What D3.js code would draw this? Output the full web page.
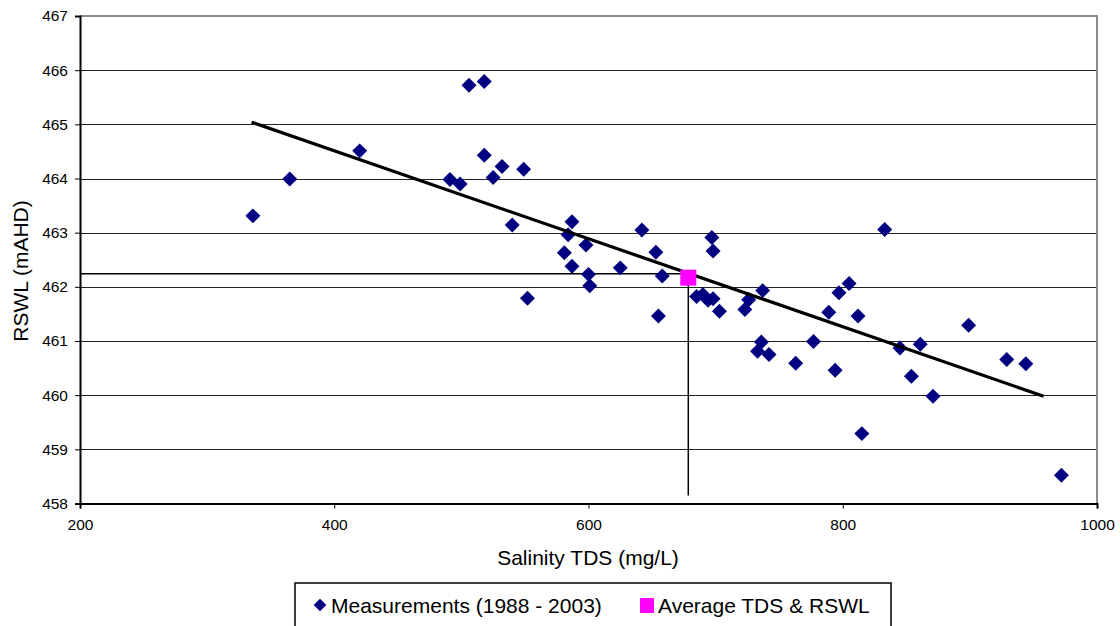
<!DOCTYPE html>
<html>
<head>
<meta charset="utf-8">
<script src="https://cdn.jsdelivr.net/npm/d3@7"></script>
<style>
  body { margin: 0; background: #fff; }
  text { font-family: "Liberation Sans", Arial, sans-serif; fill: #000; }
</style>
</head>
<body>
<div id="chart"></div>
<script>
// measured salinity (mg/L) and water level (mAHD)
const tds = [336, 365, 420, 491, 499, 506, 518, 518, 525, 532, 540, 549, 552,
  581, 584, 587, 587, 598, 600, 601, 625, 642, 653, 658, 655,
  685, 690, 694, 698, 703, 697, 698, 723, 726, 737, 736, 733, 742,
  763, 777, 789, 794, 797, 805, 812, 815, 833, 845, 854, 861, 871,
  899, 929, 944, 972];
const rswl = [463.31, 463.99, 464.51, 463.98, 463.90, 465.72, 465.79, 464.43, 464.02, 464.22, 463.14, 464.17, 461.79,
  462.63, 462.96, 463.20, 462.38, 462.77, 462.23, 462.02, 462.35, 463.05, 462.64, 462.20, 461.46,
  461.82, 461.86, 461.75, 461.78, 461.55, 462.91, 462.66, 461.58, 461.76, 461.93, 460.98, 460.81, 460.75,
  460.59, 460.99, 461.53, 460.46, 461.89, 462.06, 461.46, 459.29, 463.06, 460.87, 460.35, 460.94, 459.98,
  461.29, 460.66, 460.58, 458.52];

const avgTds = [678.5];
const avgRswl = [462.17];
// guide lines to the average point
const guideX = [200, 678.5, 678.5];
const guideY = [462.24, 462.24, 458.15];
// linear trend
const trendX = [335, 958];
const trendY = [465.04, 459.98];

const xTicks = [200, 400, 600, 800, 1000];
const yTicks = [458, 459, 460, 461, 462, 463, 464, 465, 466, 467];

const width = 1017;
const height = 487.5;
const margin = { top: 16, left: 80 };

const svg = d3.select("#chart")
  .append("svg")
  .attr("width", 1120)
  .attr("height", 626);

svg.append("rect").attr("width", 1120).attr("height", 626).attr("fill", "#fff");

const g = svg.append("g")
  .attr("transform", `translate(${margin.left},${margin.top})`);

const x = d3.scaleLinear().domain([200, 1000]).range([0, width]);
const y = d3.scaleLinear().domain([458, 467]).range([height, 0]);

// gridlines
g.selectAll(".grid")
  .data(yTicks.filter(d => d > 458 && d < 467))
  .enter()
  .append("line")
  .attr("x1", 0)
  .attr("x2", width)
  .attr("y1", d => Math.round(y(d)) + 0.5)
  .attr("y2", d => Math.round(y(d)) + 0.5)
  .attr("stroke", "#222")
  .attr("stroke-width", 1);

// plot border (top and right)
g.append("path")
  .attr("d", `M0,${y(467)}H${width}V${height}`)
  .attr("fill", "none")
  .attr("stroke", "#8c8c8c")
  .attr("stroke-width", 2);

// axes
const xAxis = g.append("g")
  .attr("transform", `translate(0,${height})`)
  .call(d3.axisBottom(x).tickValues(xTicks).tickSize(5).tickPadding(10).tickFormat(d3.format("d")));
const yAxis = g.append("g")
  .call(d3.axisLeft(y).tickValues(yTicks).tickSize(5).tickPadding(7).tickFormat(d3.format("d")));

[xAxis, yAxis].forEach(a => {
  a.select(".domain").attr("stroke", "#000").attr("stroke-width", 2);
  a.selectAll(".tick line").attr("stroke", "#000");
  a.selectAll("text")
    .style("font-family", "Liberation Sans, Arial, sans-serif")
    .style("font-size", "15.5px")
    .attr("fill", "#000");
});

// guide lines through average
const line = d3.line().x(d => x(d[0])).y(d => y(d[1]));
g.append("path")
  .datum(guideX.map((v, i) => [v, guideY[i]]))
  .attr("d", line)
  .attr("fill", "none")
  .attr("stroke", "#000")
  .attr("stroke-width", 1.5);

// measurements
const diamond = d3.symbol().type(d3.symbolSquare).size(112);
g.selectAll(".pt")
  .data(tds.map((v, i) => ({ tds: v, rswl: rswl[i] })))
  .enter()
  .append("path")
  .attr("class", "pt")
  .attr("d", diamond)
  .attr("transform", d => `translate(${x(d.tds)},${y(d.rswl)}) rotate(45)`)
  .attr("fill", "#000080");

// trend line
g.append("path")
  .datum(trendX.map((v, i) => [v, trendY[i]]))
  .attr("d", line)
  .attr("fill", "none")
  .attr("stroke", "#000")
  .attr("stroke-width", 3.2);

// average marker
g.selectAll(".avg")
  .data(avgTds.map((v, i) => ({ tds: v, rswl: avgRswl[i] })))
  .enter()
  .append("rect")
  .attr("x", d => x(d.tds) - 8)
  .attr("y", d => y(d.rswl) - 8)
  .attr("width", 16)
  .attr("height", 16)
  .attr("fill", "#ff00ff");

// axis titles
svg.append("text")
  .attr("x", 588)
  .attr("y", 565)
  .attr("text-anchor", "middle")
  .style("font-size", "21px")
  .text("Salinity TDS (mg/L)");

svg.append("text")
  .attr("transform", "translate(28,271) rotate(-90)")
  .attr("text-anchor", "middle")
  .style("font-size", "21px")
  .text("RSWL (mAHD)");

// legend
const legend = svg.append("g");
legend.append("rect")
  .attr("x", 295)
  .attr("y", 583)
  .attr("width", 596)
  .attr("height", 60)
  .attr("fill", "#fff")
  .attr("stroke", "#000")
  .attr("stroke-width", 1.5);

legend.append("path")
  .attr("d", d3.symbol().type(d3.symbolSquare).size(80))
  .attr("transform", "translate(320,605) rotate(45)")
  .attr("fill", "#000080");
legend.append("text")
  .attr("x", 331)
  .attr("y", 612.5)
  .style("font-size", "21px")
  .text("Measurements (1988 - 2003)");

legend.append("rect")
  .attr("x", 640)
  .attr("y", 598)
  .attr("width", 14)
  .attr("height", 15)
  .attr("fill", "#ff00ff");
legend.append("text")
  .attr("x", 658)
  .attr("y", 612.5)
  .style("font-size", "21px")
  .text("Average TDS & RSWL");
</script>
</body>
</html>
